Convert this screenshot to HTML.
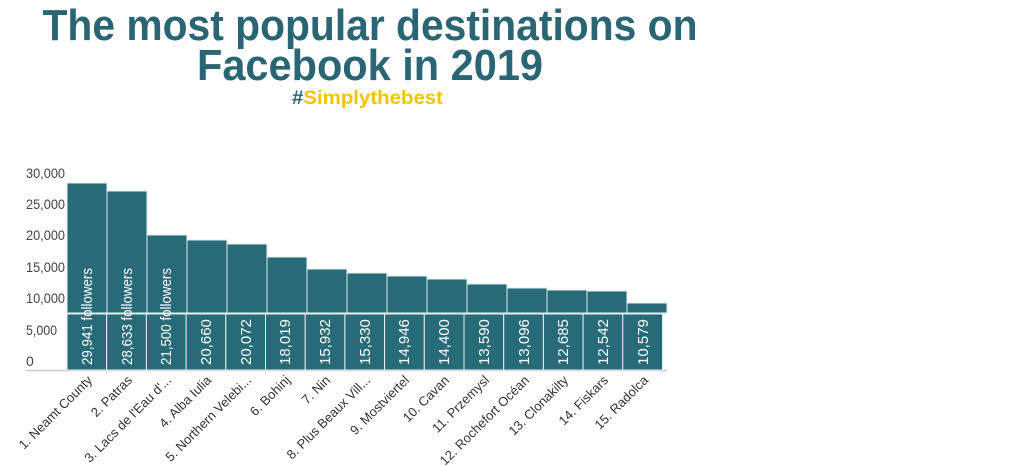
<!DOCTYPE html>
<html><head><meta charset="utf-8"><style>html,body{margin:0;padding:0;background:#fff}svg{display:block}</style></head>
<body>
<svg width="1019" height="466" xmlns="http://www.w3.org/2000/svg" font-family="'Liberation Sans', sans-serif">
<text x="370" y="40" font-size="44" font-weight="bold" fill="#2a6574" text-anchor="middle" textLength="655" lengthAdjust="spacingAndGlyphs">The most popular destinations on</text>
<text x="370" y="80" font-size="44" font-weight="bold" fill="#2a6574" text-anchor="middle" textLength="346" lengthAdjust="spacingAndGlyphs">Facebook in 2019</text>
<text x="292" y="104" font-size="19" font-weight="bold" textLength="151" lengthAdjust="spacingAndGlyphs"><tspan fill="#2a6574">#</tspan><tspan fill="#f2c300">Simplythebest</tspan></text>
<g font-size="14" fill="#444">
<text x="26" y="178" textLength="39" lengthAdjust="spacingAndGlyphs">30,000</text><text x="26" y="209" textLength="39" lengthAdjust="spacingAndGlyphs">25,000</text><text x="26" y="240" textLength="39" lengthAdjust="spacingAndGlyphs">20,000</text><text x="26" y="272" textLength="39" lengthAdjust="spacingAndGlyphs">15,000</text><text x="26" y="303" textLength="39" lengthAdjust="spacingAndGlyphs">10,000</text><text x="26" y="335" textLength="31" lengthAdjust="spacingAndGlyphs">5,000</text><text x="26" y="366">0</text>
</g>
<line x1="26" y1="370.5" x2="667" y2="370.5" stroke="#ccc" stroke-width="1.5"/>
<g fill="#276a78" stroke="#e8eef0" stroke-width="1">
<rect x="67" y="183" width="40" height="130"/>
<rect x="107" y="191" width="40" height="122"/>
<rect x="147" y="235" width="40" height="78"/>
<rect x="187" y="240" width="40" height="73"/>
<rect x="227" y="244" width="40" height="69"/>
<rect x="267" y="257" width="40" height="56"/>
<rect x="307" y="269" width="40" height="44"/>
<rect x="347" y="273" width="40" height="40"/>
<rect x="387" y="276" width="40" height="37"/>
<rect x="427" y="279" width="40" height="34"/>
<rect x="467" y="284" width="40" height="29"/>
<rect x="507" y="288" width="40" height="25"/>
<rect x="547" y="290" width="40" height="23"/>
<rect x="587" y="291" width="40" height="22"/>
<rect x="627" y="303" width="40" height="10"/>
</g>
<g fill="#276a78" stroke="#e8eef0" stroke-width="1">
<rect x="67" y="314" width="39.7" height="56"/><rect x="106.7" y="314" width="39.7" height="56"/><rect x="146.4" y="314" width="39.7" height="56"/><rect x="186.1" y="314" width="39.7" height="56"/><rect x="225.8" y="314" width="39.7" height="56"/><rect x="265.5" y="314" width="39.7" height="56"/><rect x="305.2" y="314" width="39.7" height="56"/><rect x="344.9" y="314" width="39.7" height="56"/><rect x="384.6" y="314" width="39.7" height="56"/><rect x="424.3" y="314" width="39.7" height="56"/><rect x="464" y="314" width="39.7" height="56"/><rect x="503.7" y="314" width="39.7" height="56"/><rect x="543.4" y="314" width="39.7" height="56"/><rect x="583.1" y="314" width="39.7" height="56"/><rect x="622.8" y="314" width="39.7" height="56"/>
</g>
<g font-size="15" fill="#fff">
<text transform="translate(92,365) rotate(-90)" textLength="97" lengthAdjust="spacingAndGlyphs">29,941 followers</text>
<text transform="translate(132,365) rotate(-90)" textLength="97" lengthAdjust="spacingAndGlyphs">28,633 followers</text>
<text transform="translate(171,365) rotate(-90)" textLength="97" lengthAdjust="spacingAndGlyphs">21,500 followers</text>
<text transform="translate(211,365) rotate(-90)">20,660</text>
<text transform="translate(251,365) rotate(-90)">20,072</text>
<text transform="translate(290,365) rotate(-90)">18,019</text>
<text transform="translate(330,365) rotate(-90)">15,932</text>
<text transform="translate(370,365) rotate(-90)">15,330</text>
<text transform="translate(409,365) rotate(-90)">14,946</text>
<text transform="translate(449,365) rotate(-90)">14,400</text>
<text transform="translate(489,365) rotate(-90)">13,590</text>
<text transform="translate(529,365) rotate(-90)">13,096</text>
<text transform="translate(568,365) rotate(-90)">12,685</text>
<text transform="translate(608,365) rotate(-90)">12,542</text>
<text transform="translate(648,365) rotate(-90)">10,579</text>
</g>
<g font-size="13" fill="#333" text-anchor="end">
<text transform="translate(93,381) rotate(-45)">1. Neamt County</text>
<text transform="translate(133,381) rotate(-45)">2. Patras</text>
<text transform="translate(172,381) rotate(-45)">3. Lacs de l'Eau d'...</text>
<text transform="translate(212,381) rotate(-45)">4. Alba Iulia</text>
<text transform="translate(252,381) rotate(-45)">5. Northern Velebi...</text>
<text transform="translate(291,381) rotate(-45)">6. Bohinj</text>
<text transform="translate(331,381) rotate(-45)">7. Nin</text>
<text transform="translate(371,381) rotate(-45)">8. Plus Beaux Vill...</text>
<text transform="translate(410,381) rotate(-45)">9. Mostviertel</text>
<text transform="translate(450,381) rotate(-45)">10. Cavan</text>
<text transform="translate(490,381) rotate(-45)">11. Przemysl</text>
<text transform="translate(530,381) rotate(-45)">12. Rochefort Océan</text>
<text transform="translate(569,381) rotate(-45)">13. Clonakilty</text>
<text transform="translate(609,381) rotate(-45)">14. Fiskars</text>
<text transform="translate(649,381) rotate(-45)">15. Radolca</text>
</g>
</svg>
</body></html>
